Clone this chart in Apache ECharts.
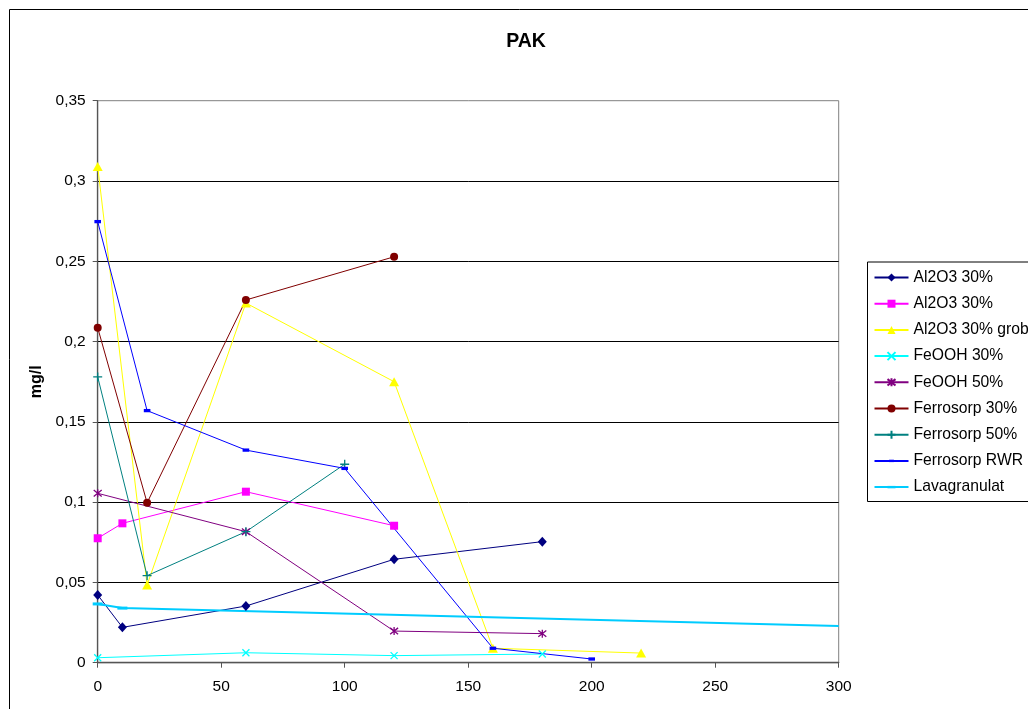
<!DOCTYPE html>
<html>
<head>
<meta charset="utf-8">
<script src="https://cdn.jsdelivr.net/npm/echarts@6/dist/echarts.min.js"></script>
<style>
  html, body { margin: 0; padding: 0; background: #fff; }
  #chart { width: 1028px; height: 709px; }
</style>
</head>
<body>
<div id="chart"></div>
<script>
// PAK concentration (mg/l) over time for the different filter materials
const xTicks = [0, 50, 100, 150, 200, 250, 300];
const yTicks = [0, 0.05, 0.1, 0.15, 0.2, 0.25, 0.3, 0.35];

const al2o3A       = [[0, 0.0422], [10, 0.0220], [60, 0.0353], [120, 0.0644], [180, 0.0754]];
const al2o3B       = [[0, 0.0775], [10, 0.0868], [60, 0.1065], [120, 0.0853]];
const al2o3Grob    = [[0, 0.309], [20, 0.0484], [60, 0.224], [120, 0.175], [160, 0.009], [220, 0.006]];
const feooh30      = [[0, 0.0031], [60, 0.0062], [120, 0.0044], [180, 0.0054]];
const feooh50      = [[0, 0.1055], [60, 0.0816], [120, 0.0197], [180, 0.0181]];
const ferrosorp30  = [[0, 0.2086], [20, 0.0996], [60, 0.2259], [120, 0.2528]];
const ferrosorp50  = [[0, 0.178], [20, 0.0542], [60, 0.0816], [100, 0.1236]];
const ferrosorpRWR = [[0, 0.2747], [20, 0.157], [60, 0.1324], [100, 0.121], [160, 0.009], [200, 0.0023]];
const lavagranulat = [[0, 0.0366], [10, 0.034], [300, 0.0229]];

const FONT = '"Liberation Sans", Arial, sans-serif';

// Excel-style marker glyphs (dash markers keep a square 10x10 box so they stay flat)
const SYM_X    = 'path://M0,0L10,10M10,0L0,10';
const SYM_STAR = 'path://M1,1L9,9M9,1L1,9M5,0L5,10';
const SYM_PLUS = 'path://M5,0L5,10M0,5L10,5';
const SYM_DASH = 'path://M0,0L0,0M2,3.5L8,3.5L8,6.5L2,6.5ZM10,10L10,10';
const SYM_DASH_LONG = 'path://M0,0L0,0M0,3.5L10,3.5L10,6.5L0,6.5ZM10,10L10,10';

function lineSeries(name, data, color, symbol, size, opts) {
  opts = opts || {};
  const stroked = symbol.indexOf('path://') === 0 && symbol.indexOf('Z') < 0;
  return {
    type: 'line',
    name: name,
    data: opts.hideLastSymbol
      ? data.map((p, i) => (i === data.length - 1 ? { value: p, symbol: 'none' } : p))
      : data,
    symbol: symbol,
    symbolSize: size,
    showSymbol: true,
    showAllSymbol: true,
    clip: false,
    lineStyle: { color: color, width: opts.width || 1 },
    itemStyle: {
      color: color,
      borderColor: color,
      borderWidth: stroked ? 1.3 : 0
    },
    emphasis: { disabled: true },
    z: 2
  };
}

const series = [
  lineSeries('Al2O3 30%',      al2o3A,       '#000080', 'diamond',  [9, 10]),
  lineSeries('Al2O3 30% ',     al2o3B,       '#FF00FF', 'rect',     8),
  lineSeries('Al2O3 30% grob', al2o3Grob,    '#FFFF00', 'triangle', [10, 9]),
  lineSeries('FeOOH 30%',      feooh30,      '#00FFFF', SYM_X,      7),
  lineSeries('FeOOH 50%',      feooh50,      '#800080', SYM_STAR,   8),
  lineSeries('Ferrosorp 30%',  ferrosorp30,  '#800000', 'circle',   8),
  lineSeries('Ferrosorp 50%',  ferrosorp50,  '#008080', SYM_PLUS,   9),
  lineSeries('Ferrosorp RWR',  ferrosorpRWR, '#0000FF', SYM_DASH,   11),
  lineSeries('Lavagranulat',   lavagranulat, '#00CCFF', SYM_DASH_LONG, 10, { width: 2, hideLastSymbol: true })
];

const chart = echarts.init(document.getElementById('chart'), null, { renderer: 'canvas' });

chart.setOption({
  animation: false,
  backgroundColor: '#fff',
  textStyle: { fontFamily: FONT },
  graphic: [
    {
      type: 'rect',
      shape: { x: 9.5, y: 9.5, width: 1200, height: 900 },
      style: { fill: null, stroke: '#000', lineWidth: 1 },
      silent: true,
      z: -10
    },
    {
      type: 'text',
      x: 526,
      y: 42,
      style: {
        text: 'PAK',
        font: 'bold 19.5px ' + FONT,
        fill: '#000',
        textAlign: 'center',
        textVerticalAlign: 'middle'
      },
      silent: true
    }
  ],
  legend: {
    orient: 'vertical',
    left: 867.5,
    top: 262,
    padding: [7.5, 30, 6.4, 6],
    itemWidth: 34,
    itemHeight: 10,
    itemGap: 10.2,
    borderColor: '#000',
    borderWidth: 1,
    backgroundColor: '#fff',
    selectedMode: false,
    textStyle: { fontFamily: FONT, fontSize: 15.7, color: '#000' },
    data: series.map(s => s.name)
  },
  grid: {
    left: 97.7,
    top: 100.7,
    width: 741,
    height: 562,
    show: true,
    borderColor: '#808080',
    borderWidth: 1,
    backgroundColor: '#fff'
  },
  xAxis: {
    type: 'value',
    min: xTicks[0],
    max: xTicks[xTicks.length - 1],
    interval: 50,
    axisLine: { show: true, lineStyle: { color: '#555', width: 1.3 } },
    axisTick: { show: true, length: 5, lineStyle: { color: '#555' } },
    axisLabel: { fontFamily: FONT, fontSize: 15.5, color: '#000', margin: 16 },
    splitLine: { show: false }
  },
  yAxis: {
    type: 'value',
    min: yTicks[0],
    max: yTicks[yTicks.length - 1],
    interval: 0.05,
    name: 'mg/l',
    nameLocation: 'middle',
    nameRotate: 90,
    nameGap: 51,
    nameTextStyle: { fontFamily: FONT, fontSize: 16, fontWeight: 'bold', color: '#000' },
    axisLine: { show: true, lineStyle: { color: '#555', width: 1.3 } },
    axisTick: { show: true, length: 5, lineStyle: { color: '#555' } },
    axisLabel: {
      fontFamily: FONT,
      fontSize: 15.5,
      color: '#000',
      margin: 12,
      formatter: v => (v === 0 ? '0' : String(parseFloat(v.toFixed(2))).replace('.', ','))
    },
    splitLine: {
      show: true,
      showMinLine: false,
      showMaxLine: false,
      lineStyle: { color: '#000', width: 1 }
    }
  },
  series: series
});
</script>
</body>
</html>
